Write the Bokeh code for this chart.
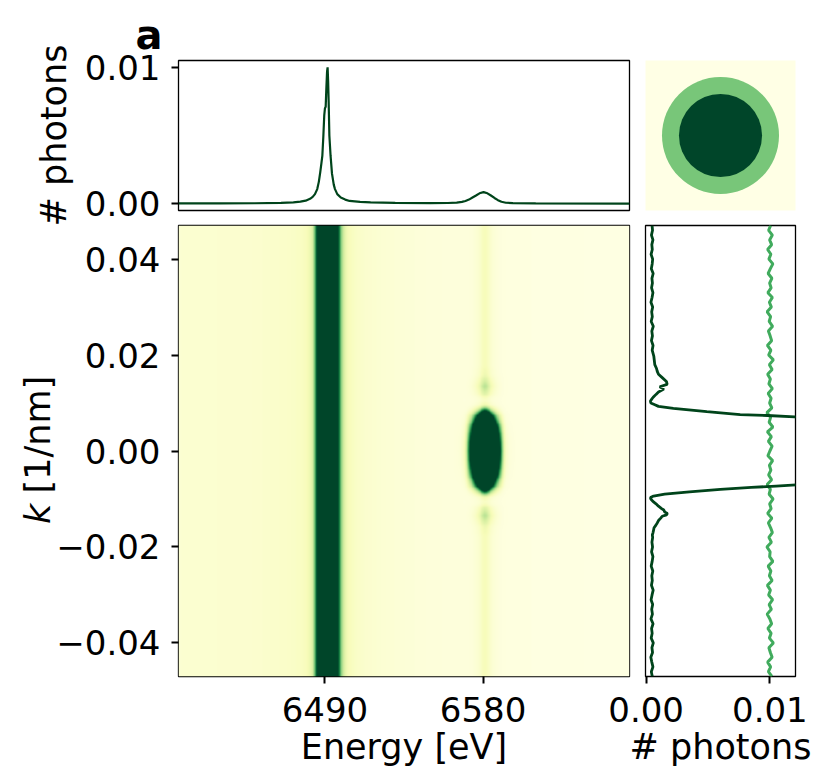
import numpy as np
from math import pi
from bokeh.plotting import figure
from bokeh.layouts import column, row
from bokeh.models import (Range1d, FixedTicker, CustomJSTickFormatter,
                          LinearColorMapper, Label)
from bokeh.palettes import YlGn9
from bokeh.embed import file_html
from bokeh.resources import INLINE

FONT = "DejaVu Sans"
DARK = "#00441b"
LIGHT = "#41ab5d"
FS = "34px"
FS_LAB = "35px"

# ---------------- data ----------------
# top spectrum (# photons vs energy)
spec_E = [6406.6, 6430, 6450, 6465, 6472, 6476, 6479, 6481.5, 6483, 6484.3,
          6485.6, 6486.5, 6487.3, 6488.0, 6488.5, 6489.1, 6489.6, 6490.0, 6490.4, 6490.8,
          6491.2, 6491.5, 6491.8, 6492.1, 6492.5, 6493.2, 6494.0, 6495.0, 6495.7, 6497.0,
          6499.0, 6501.5, 6504, 6510, 6516, 6530, 6550, 6560, 6565, 6568,
          6570, 6572, 6574, 6576, 6578, 6580.3, 6582.5, 6584.5, 6586.5, 6588.5,
          6590.5, 6593, 6597, 6610, 6663.4]
spec_I = [0.00002, 0.00002, 0.00003, 0.00006, 0.0001, 0.00015, 0.00022, 0.00036, 0.0005, 0.0007,
          0.00107, 0.0016, 0.0023, 0.0030, 0.0035, 0.0050, 0.0065, 0.0070, 0.0071, 0.0085,
          0.0097, 0.0100, 0.0090, 0.0075, 0.0050, 0.0035, 0.0022, 0.0014, 0.00107, 0.0007,
          0.00045, 0.0003, 0.0002, 0.00013, 0.0001, 0.00006, 0.00004, 0.00005, 0.00008, 0.00013,
          0.0002, 0.0003, 0.00045, 0.0006, 0.00076, 0.00085, 0.00076, 0.0006, 0.00042, 0.00026,
          0.00014, 0.00007, 0.00004, 0.00002, 0.00001]

# heat map: k-independent band around 6490 eV
band_E = [6406.6, 6450, 6470, 6477, 6479, 6481, 6482, 6483, 6484, 6484.7,
          6485.3, 6491.5, 6497.7, 6498.3, 6499, 6500, 6501, 6502, 6504, 6508,
          6514, 6525, 6550, 6600, 6663.4]
band_I = [0.00035, 0.0004, 0.0005, 0.0006, 0.0007, 0.0009, 0.0011, 0.0016, 0.003, 0.0045,
          0.006, 0.01, 0.006, 0.0045, 0.003, 0.002, 0.0014, 0.001, 0.0007, 0.0005,
          0.0004, 0.0003, 0.0002, 0.0001, 0.00005]
# heat map: feature at 6580 eV, energy shape and k profile
feat_E = [6406.6, 6563.2, 6567.2, 6569.2, 6570.2, 6571.2, 6572.2, 6573.2, 6574.2, 6575.2,
          6576.2, 6577.2, 6578.2, 6579.2, 6580.2, 6581.2, 6582.2, 6583.2, 6584.2, 6585.2,
          6586.2, 6587.2, 6588.2, 6589.2, 6590.2, 6591.2, 6592.2, 6593.2, 6595.2, 6599.2,
          6663.4]
feat_G = [0, 0, 0.001, 0.004, 0.01, 0.025, 0.05, 0.075, 0.11, 0.17,
          0.25, 0.35, 0.5, 0.7, 0.9, 1.0, 0.9, 0.7, 0.5, 0.35,
          0.25, 0.17, 0.11, 0.075, 0.05, 0.025, 0.01, 0.004, 0.001, 0,
          0]
map_k = [-0.047, -0.020, -0.018, -0.016, -0.015, -0.0135, -0.012, -0.011, -0.0105, -0.0095,
         -0.009, -0.0084, -0.0083, -0.0082, -0.008, -0.0078, -0.0075, -0.007, -0.0065, -0.006,
         -0.005, -0.004, -0.002, 0.0, 0.002, 0.004, 0.005, 0.006, 0.0065, 0.007,
         0.0075, 0.0078, 0.008, 0.0082, 0.0083, 0.0084, 0.009, 0.0095, 0.0105, 0.011,
         0.012, 0.0135, 0.015, 0.016, 0.018, 0.020, 0.047]
map_P = [0.0006, 0.0006, 0.0006, 0.0008, 0.0012, 0.0020, 0.0012, 0.0005, 0.0004, 0.0009,
         0.0025, 0.006, 0.0072, 0.0083, 0.0106, 0.013, 0.0167, 0.0226, 0.029, 0.037,
         0.055, 0.070, 0.096, 0.107, 0.096, 0.070, 0.055, 0.037, 0.029, 0.0226,
         0.0167, 0.013, 0.0106, 0.0083, 0.0072, 0.006, 0.0025, 0.0009, 0.0004, 0.0005,
         0.0012, 0.0020, 0.0012, 0.0008, 0.0006, 0.0006, 0.0006]
map_vmax = 0.006

# right panel: cut through the band (light) and through the 6580 eV feature (dark)
cut_k = np.linspace(-0.047, 0.047, 95)
cut_band = [0.01016, 0.00988, 0.01006, 0.00982, 0.01018, 0.01004, 0.00992, 0.01028, 0.00996, 0.01010,
            0.00984, 0.01014, 0.01000, 0.00978, 0.01012, 0.00994, 0.01022, 0.00990, 0.01004, 0.00980,
            0.01018, 0.00996, 0.01008, 0.00986, 0.01024, 0.00998, 0.01002, 0.00976, 0.01012, 0.00992,
            0.01020, 0.01006, 0.00988, 0.01016, 0.00982, 0.01010, 0.00998, 0.01026, 0.00994, 0.01004,
            0.00978, 0.01014, 0.00990, 0.01008, 0.00996, 0.01022, 0.00984, 0.01000, 0.01018, 0.00988,
            0.01012, 0.00980, 0.01024, 0.00994, 0.01006, 0.00976, 0.01016, 0.00998, 0.01010, 0.00986,
            0.01020, 0.00992, 0.01004, 0.00982, 0.01018, 0.00996, 0.01028, 0.00990, 0.01008, 0.00980,
            0.01014, 0.01002, 0.00988, 0.01022, 0.00994, 0.01006, 0.00978, 0.01012, 0.00996, 0.01020,
            0.00984, 0.01010, 0.00998, 0.01016, 0.00986, 0.01004, 0.01024, 0.00992, 0.01008, 0.00982,
            0.01014, 0.00998, 0.01020, 0.00990, 0.01006]
feat_k = [-0.047, -0.046, -0.045, -0.044, -0.043, -0.042, -0.041, -0.040, -0.039, -0.038,
          -0.037, -0.036, -0.035, -0.034, -0.033, -0.032, -0.031, -0.030, -0.029, -0.028,
          -0.027, -0.026, -0.025, -0.024, -0.023, -0.022, -0.021, -0.020, -0.019, -0.018,
          -0.0175, -0.0170, -0.0165, -0.0160, -0.0155, -0.0150, -0.0145, -0.0140, -0.0136, -0.0133,
          -0.0130, -0.0127, -0.0123, -0.0120, -0.0115, -0.0110, -0.0105, -0.0100, -0.0097, -0.0094,
          -0.0090, -0.0085, -0.0080, -0.0076, -0.0073, -0.0070, -0.0065, -0.0060, -0.0040, -0.0020,
          0.0, 0.0020, 0.0040, 0.0060, 0.0065, 0.0071, 0.0074, 0.0076, 0.0082, 0.0089,
          0.0093, 0.0096, 0.0100, 0.0104, 0.0108, 0.0112, 0.0118, 0.0123, 0.0129, 0.0134,
          0.0139, 0.0145, 0.0153, 0.0160, 0.0166, 0.0172, 0.0180, 0.0187, 0.0198, 0.021,
          0.022, 0.023, 0.024, 0.025, 0.026, 0.027, 0.028, 0.029, 0.030, 0.031,
          0.032, 0.033, 0.034, 0.035, 0.036, 0.037, 0.038, 0.039, 0.040, 0.041,
          0.042, 0.043, 0.044, 0.045, 0.046, 0.047]
cut_feat = [0.00050, 0.00042, 0.00055, 0.00046, 0.00038, 0.00052, 0.00047, 0.00058, 0.00041, 0.00049,
            0.00044, 0.00056, 0.00039, 0.00051, 0.00045, 0.00053, 0.00040, 0.00048, 0.00057, 0.00043,
            0.00050, 0.00046, 0.00054, 0.00041, 0.00049, 0.00055, 0.00044, 0.00052, 0.00047, 0.00053,
            0.00050, 0.00056, 0.00060, 0.00064, 0.00078, 0.00090, 0.00100, 0.00118, 0.00130, 0.00165,
            0.00172, 0.00150, 0.00143, 0.00125, 0.00100, 0.00080, 0.00055, 0.00038, 0.00035, 0.00060,
            0.00150, 0.0035, 0.0060, 0.0085, 0.0105, 0.0125, 0.016, 0.020, 0.030, 0.036,
            0.040, 0.036, 0.030, 0.020, 0.016, 0.0120, 0.0098, 0.0076, 0.0049, 0.0022,
            0.0010, 0.00075, 0.00038, 0.00035, 0.00045, 0.00057, 0.00080, 0.00100, 0.00143, 0.00110,
            0.00170, 0.00164, 0.00130, 0.00100, 0.00090, 0.00084, 0.00070, 0.00067, 0.00062, 0.00049,
            0.00056, 0.00043, 0.00051, 0.00046, 0.00058, 0.00041, 0.00050, 0.00045, 0.00053, 0.00039,
            0.00048, 0.00055, 0.00044, 0.00051, 0.00047, 0.00057, 0.00042, 0.00049, 0.00053, 0.00040,
            0.00050, 0.00046, 0.00055, 0.00043, 0.00052, 0.00048]

# detector mask (top right)
circle_r = [0.39, 0.277]
circle_colors = ["#78c679", "#004529"]
circle_bg = "#ffffe5"

E_lo, E_hi = 6406.6, 6663.4
k_lo, k_hi = -0.047, 0.047
ph_lo, ph_hi = -0.00005, 0.01207
sp_lo, sp_hi = -0.0005, 0.0105
energy_ticks = [6490, 6580]
k_ticks = [-0.04, -0.02, 0.0, 0.02, 0.04]
photon_ticks = [0.0, 0.01]

# ---------------- palette (YlGn, light -> dark) ----------------
base = list(reversed(YlGn9))
rgb = np.array([[int(c[i:i + 2], 16) for i in (1, 3, 5)] for c in base], float)
pos = np.linspace(0, 1, len(base))
palette = []
for t in np.linspace(0, 1, 256):
    palette.append("#%02x%02x%02x" % tuple(int(round(np.interp(t, pos, rgb[:, j]))) for j in range(3)))

fmt2 = CustomJSTickFormatter(code="return (tick < 0 ? '\u2212' : '') + Math.abs(tick).toFixed(2);")


def style(p, ystand=11, xstand=13):
    p.xgrid.visible = False
    p.ygrid.visible = False
    p.outline_line_color = "black"
    p.outline_line_width = 1.3
    p.background_fill_color = "white"
    for ax in p.axis:
        ax.axis_line_color = None
        ax.major_tick_out = 7
        ax.major_tick_in = 0
        ax.major_tick_line_width = 2
        ax.major_tick_line_color = "black"
        ax.minor_tick_line_color = None
        ax.major_label_text_font = FONT
        ax.major_label_text_font_size = FS
        ax.major_label_text_color = "black"
        ax.axis_label_text_font = FONT
        ax.axis_label_text_font_size = FS_LAB
        ax.axis_label_text_font_style = "normal"
        ax.axis_label_text_color = "black"
    for ax in p.xaxis:
        ax.major_label_standoff = xstand
        ax.axis_label_standoff = 2
    for ax in p.yaxis:
        ax.major_label_standoff = ystand
        ax.axis_label_standoff = 8


# ---------------- top spectrum ----------------
p_top = figure(width=645, height=232, x_range=Range1d(E_lo, E_hi), y_range=Range1d(sp_lo, sp_hi),
               output_backend="svg", toolbar_location=None, x_axis_location=None,
               min_border_left=178, min_border_right=16, min_border_top=60, min_border_bottom=22,
               title="a")
p_top.line(spec_E, spec_I, line_color=DARK, line_width=2.2)
style(p_top)
p_top.yaxis.ticker = FixedTicker(ticks=photon_ticks)
p_top.yaxis.formatter = fmt2
p_top.yaxis.axis_label = "# photons"
p_top.title.align = "left"
p_top.title.offset = -43
p_top.title.standoff = 5
p_top.title.text_font = FONT
p_top.title.text_font_size = "40px"
p_top.title.text_font_style = "bold"
p_top.title.text_color = "black"

# ---------------- mask image ----------------
p_circ = figure(width=170, height=232, x_range=Range1d(0, 1), y_range=Range1d(0, 1),
                output_backend="svg", toolbar_location=None, x_axis_location=None, y_axis_location=None,
                min_border_left=0, min_border_right=20, min_border_top=60, min_border_bottom=22)
p_circ.xgrid.visible = False
p_circ.ygrid.visible = False
p_circ.outline_line_color = None
p_circ.background_fill_color = circle_bg
p_circ.circle(x=[0.5] * len(circle_r), y=[0.5] * len(circle_r), radius=circle_r,
              fill_color=circle_colors, line_color=None)

# ---------------- y label of the map (its own strip, under the map's left border) ----------------
p_lab = figure(width=178, height=547, x_range=Range1d(0, 178), y_range=Range1d(k_lo, k_hi),
               output_backend="svg", toolbar_location=None, x_axis_location=None, y_axis_location=None,
               min_border_left=0, min_border_right=0, min_border_top=1, min_border_bottom=95)
p_lab.xgrid.visible = False
p_lab.ygrid.visible = False
p_lab.outline_line_color = None
p_lab.background_fill_color = None
p_lab.border_fill_color = None
p_lab.add_layout(Label(x=37.2, y=-0.0152, text="k", angle=pi / 2, text_font=FONT,
                       text_font_size=FS_LAB, text_font_style="italic", text_color="black",
                       text_align="left", text_baseline="alphabetic"))
p_lab.add_layout(Label(x=37.2, y=-0.00885, text="[1/nm]", angle=pi / 2, text_font=FONT,
                       text_font_size=FS_LAB, text_color="black",
                       text_align="left", text_baseline="alphabetic"))

# ---------------- heat map ----------------
E_img = np.linspace(E_lo, E_hi, 700)
k_img = np.linspace(k_lo, k_hi, 500)
band = np.interp(E_img, band_E, band_I)
feat = np.interp(E_img, feat_E, feat_G)
prof = np.interp(k_img, map_k, map_P)
img = band[None, :] + prof[:, None] * feat[None, :]

p_main = figure(width=595, height=547, x_range=Range1d(E_lo, E_hi), y_range=p_lab.y_range,
                output_backend="svg", toolbar_location=None,
                min_border_left=128, min_border_right=16, min_border_top=1, min_border_bottom=95,
                margin=(0, 0, 0, -128))
p_main.border_fill_color = None
cmap = LinearColorMapper(palette=palette, low=0, high=map_vmax, high_color=palette[-1])
p_main.image(image=[img], x=E_lo, y=k_lo, dw=E_hi - E_lo, dh=k_hi - k_lo, color_mapper=cmap)
style(p_main)
p_main.xaxis.ticker = FixedTicker(ticks=energy_ticks)
p_main.xaxis.axis_label = "Energy [eV]"
p_main.yaxis.ticker = FixedTicker(ticks=k_ticks)
p_main.yaxis.formatter = fmt2

# ---------------- right profile panel ----------------
p_right = figure(width=208, height=547, x_range=Range1d(ph_lo, ph_hi), y_range=p_lab.y_range,
                 output_backend="svg", toolbar_location=None, y_axis_location=None,
                 min_border_left=40, min_border_right=18, min_border_top=1, min_border_bottom=95,
                 margin=(0, 0, 0, -40))
p_right.border_fill_color = None
p_right.line(cut_band, cut_k, line_color=LIGHT, line_width=3)
p_right.line(cut_feat, feat_k, line_color=DARK, line_width=2.8)
style(p_right)
p_right.xaxis.ticker = FixedTicker(ticks=photon_ticks)
p_right.xaxis.formatter = fmt2
p_right.xaxis.axis_label = "# photons"

bottom = row(p_lab, p_main, p_right, margin=(-8, 0, 0, 0))
layout = column(row(p_top, p_circ), bottom)
open("out.html", "w").write(file_html(layout, INLINE))
